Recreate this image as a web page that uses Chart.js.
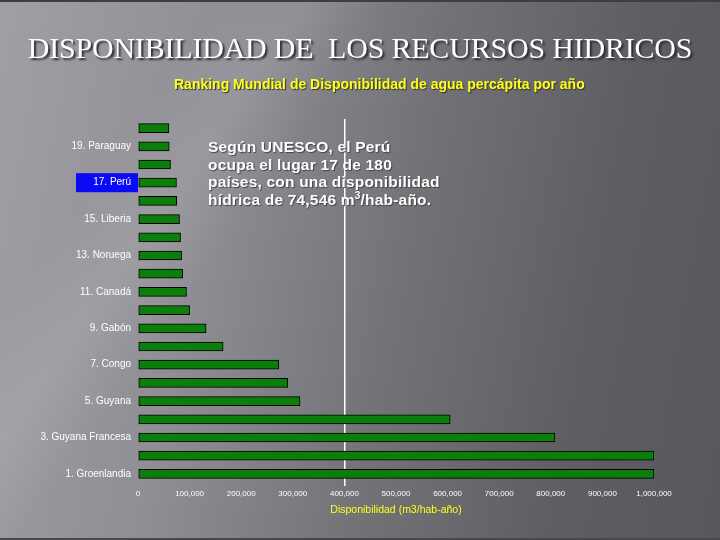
<!DOCTYPE html>
<html lang="es">
<head>
    <meta charset="UTF-8">
    <title>Disponibilidad de los recursos hidricos</title>
    <script src="https://cdn.jsdelivr.net/npm/chart.js"></script>
    <style>
        body { margin: 0; }
        .master {
            position: relative; width: 720px; height: 540px; overflow: hidden;
            background:
                linear-gradient(125deg, rgba(255,255,255,0) 20%, rgba(255,255,255,0.09) 28%, rgba(255,255,255,0) 36%),
                linear-gradient(100deg, #a09fa6 0%, #908f96 28%, #737277 55%, #5e5d62 80%, #58575c 100%);
            border-top: 2px solid #3e3d42;
            border-bottom: 2px solid #48474c;
            box-sizing: border-box;
        }
        #myChart { position: absolute; left: 0; top: 0; }
        .title {
            position: absolute; left: 0; width: 720px; top: 29px; text-align: center;
            font-family: "Liberation Serif", "Times New Roman", serif; font-size: 30px;
            color: #fff; text-shadow: 2px 2px 2px #2a2a2e; letter-spacing: -0.2px;
            white-space: nowrap;
        }
        .subtitle {
            position: absolute; left: 174px; top: 74px;
            font-family: "Liberation Sans", Arial, sans-serif; font-size: 14px; font-weight: bold;
            color: #ffff1a; letter-spacing: 0px; text-shadow: 1px 1px 1px #333;
            white-space: nowrap;
        }
        .note {
            position: absolute; left: 208px; top: 136px;
            font-family: "Liberation Sans", Arial, sans-serif; font-size: 15.5px; line-height: 17.7px;
            font-weight: bold; letter-spacing: 0.2px;
            color: #fff; text-shadow: 1px 1px 1px #444; white-space: nowrap;
        }
        .note sup { font-size: 10px; line-height: 0; vertical-align: 0; position: relative; top: -6px; }
    </style>
</head>
<body>
    <div class="master">
        <canvas id="myChart" width="720" height="540"></canvas>
        <div class="title">DISPONIBILIDAD DE&nbsp; LOS RECURSOS HIDRICOS</div>
        <div class="subtitle">Ranking Mundial de Disponibilidad de agua percápita por año</div>
        <div class="note">Según UNESCO, el Perú<br>ocupa el lugar 17 de 180<br>países, con una disponibilidad<br>hídrica de 74,546 m<sup>3</sup>/hab-año.</div>
    </div>

    <script>
        // ranking 20 -> 1 (top to bottom); only odd ranks carry a name on the chart
        const ranks = [20, 19, 18, 17, 16, 15, 14, 13, 12, 11, 10, 9, 8, 7, 6, 5, 4, 3, 2, 1];
        const names = ['', 'Paraguay', '', 'Perú', '', 'Liberia', '', 'Noruega', '', 'Canadá',
                       '', 'Gabón', '', 'Congo', '', 'Guyana', '', 'Guyana Francesa', '', 'Groenlandia'];
        const disponibilidad = [60000, 60500, 63000, 74546, 75000, 80500, 82500, 84500, 86500, 94000,
                                100000, 132000, 165000, 273000, 290000, 314000, 605000, 808000, 1000000, 1000000];
        const highlightRank = 17;

        const labels = ranks.map((r, i) => names[i] ? r + '. ' + names[i] : '');

        // blue box behind the Peru label
        const highlightBox = {
            id: 'highlightBox',
            beforeDraw(chart) {
                const y = chart.scales.y;
                const idx = ranks.indexOf(highlightRank);
                const cy = y.getPixelForValue(idx);
                const ctx = chart.ctx;
                ctx.save();
                ctx.fillStyle = '#0a0af5';
                ctx.fillRect(76, cy - 9.5, chart.chartArea.left - 76, 19);
                ctx.restore();
            }
        };

        const ctx = document.getElementById('myChart').getContext('2d');
        const myChart = new Chart(ctx, {
            type: 'bar',
            data: {
                labels: labels,
                datasets: [{
                    label: 'Disponibilidad',
                    data: disponibilidad,
                    backgroundColor: '#0b7e0b',
                    borderColor: '#000000',
                    borderWidth: 1,
                    borderSkipped: false,
                    barThickness: 9,
                }]
            },
            options: {
                indexAxis: 'y',
                responsive: false,
                animation: false,
                layout: { padding: { top: 117, right: 66, bottom: 24, left: 0 } },
                plugins: { legend: { display: false }, tooltip: { enabled: false } },
                scales: {
                    x: {
                        min: 0, max: 1000000,
                        ticks: {
                            stepSize: 100000,
                            color: '#ffffff',
                            font: { family: 'Liberation Sans', size: 8 },
                            padding: 3,
                            maxRotation: 0,
                            callback: v => v.toLocaleString('en-US')
                        },
                        grid: {
                            color: c => c.tick && c.tick.value === 400000 ? '#ffffff' : 'rgba(0,0,0,0)',
                            lineWidth: 1.5,
                            tickLength: 3,
                            drawTicks: true
                        },
                        border: { display: false },
                        title: {
                            display: true,
                            text: 'Disponibilidad (m3/hab-año)',
                            color: '#ffff1a',
                            font: { family: 'Liberation Sans', size: 10.5 },
                            padding: { top: 0, bottom: 2 }
                        },
                        afterFit: s => { s.height = 35; }
                    },
                    y: {
                        ticks: {
                            color: '#ffffff',
                            font: { family: 'Liberation Sans', size: 10 },
                            padding: 7,
                            autoSkip: false
                        },
                        grid: { display: false, tickLength: 0 },
                        border: { display: false },
                        afterFit: s => { s.width = 138; }
                    }
                }
            },
            plugins: [highlightBox]
        });
    </script>
</body>
</html>
